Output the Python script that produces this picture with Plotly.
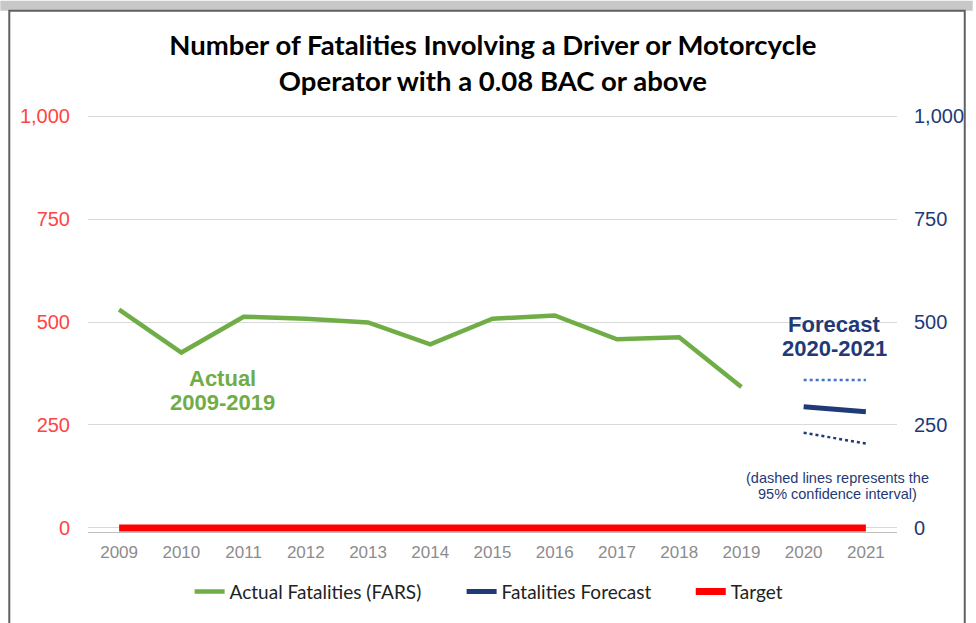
import plotly.graph_objects as go

years = [2009, 2010, 2011, 2012, 2013, 2014, 2015, 2016, 2017, 2018, 2019, 2020, 2021]
actual_years = [2009, 2010, 2011, 2012, 2013, 2014, 2015, 2016, 2017, 2018, 2019]
actual_vals = [530, 426, 513, 508, 499, 446, 508, 516, 458, 463, 342]
fc_years = [2020, 2021]
fc_vals = [294, 282]
ci_upper = [359, 359]
ci_lower = [231, 205]
target_vals = [0] * 13
yticks = [0, 250, 500, 750, 1000]
ytick_text = ["0", "250", "500", "750", "1,000"]

W, H = 976, 623
ML, MR, MT, MB = 88, 76, 115, 88
PW, PH = W - ML - MR, H - MT - MB

def px(x):
    return (x - ML) / PW

def py(y):
    return (H - MB - y) / PH

GREEN = "#70AD47"
NAVY = "#1F3A76"
RED = "#FF0000"

fig = go.Figure()
fig.add_trace(go.Scatter(x=actual_years, y=actual_vals, mode="lines",
                         line=dict(color=GREEN, width=4.5),
                         name="Actual Fatalities (FARS)", legend="legend"))
fig.add_trace(go.Scatter(x=fc_years, y=fc_vals, mode="lines",
                         line=dict(color=NAVY, width=5),
                         name="Fatalities Forecast", legend="legend2"))
fig.add_trace(go.Scatter(x=years, y=target_vals, mode="lines",
                         line=dict(color=RED, width=7),
                         name="Target", cliponaxis=False, legend="legend3"))
fig.add_trace(go.Scatter(x=fc_years, y=ci_upper, mode="lines",
                         line=dict(color="#4472C4", width=2.5, dash="dot"),
                         showlegend=False))
fig.add_trace(go.Scatter(x=fc_years, y=ci_lower, mode="lines",
                         line=dict(color=NAVY, width=2.5, dash="dot"),
                         showlegend=False))
# invisible trace for right axis
fig.add_trace(go.Scatter(x=[2009], y=[0], yaxis="y2", mode="markers",
                         marker=dict(opacity=0), showlegend=False, hoverinfo="skip"))

leg_font = dict(family="Lato", size=19, color="#222222")
def leg(xpix):
    return dict(orientation="h", x=px(xpix), xanchor="left", y=py(595), yanchor="middle",
                font=leg_font, bgcolor="rgba(0,0,0,0)", itemwidth=30)

fig.update_layout(
    width=W, height=H,
    margin=dict(l=ML, r=MR, t=MT, b=MB),
    paper_bgcolor="white", plot_bgcolor="white",
    title=dict(text="Number of Fatalities Involving a Driver or Motorcycle<br>Operator with a 0.08 BAC or above",
               x=0.505, xanchor="center", y=1 - 55 / H, yanchor="middle",
               font=dict(family="Lato", size=27.5, color="black", weight="bold")),
    xaxis=dict(range=[2008.5, 2021.5], tickvals=years, ticktext=[str(y) for y in years],
               showgrid=False, showline=True, linecolor="#bfbfbf", linewidth=1,
               zeroline=False, ticks="", ticklabelstandoff=5,
               tickfont=dict(family="Liberation Sans", size=17, color="#8c8c8c")),
    yaxis=dict(range=[-10, 1003], tickvals=yticks, ticktext=ytick_text,
               showgrid=True, gridcolor="#d9d9d9", gridwidth=1, zeroline=False,
               ticklabelstandoff=17,
               tickfont=dict(family="Liberation Sans", size=20, color="#FF4444")),
    yaxis2=dict(range=[-10, 1003], tickvals=yticks, ticktext=ytick_text, overlaying="y",
                side="right", showgrid=False, zeroline=False, ticklabelstandoff=16,
                tickfont=dict(family="Liberation Sans", size=20, color=NAVY)),
    legend=leg(190),
    legend2=leg(463),
    legend3=leg(693),
    showlegend=True,
)

def note(text, x, y, size, color, bold=False):
    fig.add_annotation(text=f"<b>{text}</b>" if bold else text, x=px(x), y=py(y),
                       xref="paper", yref="paper", xanchor="center", yanchor="middle",
                       showarrow=False, font=dict(family="Liberation Sans", size=size, color=color))

note("Actual", 223, 380, 22, GREEN, True)
note("2009-2019", 223, 405, 22, GREEN, True)
note("Forecast", 837, 326, 22, NAVY, True)
note("2020-2021", 837, 350, 22, NAVY, True)
note("(dashed lines represents the", 840, 481, 14.5, NAVY)
note("95% confidence interval)", 840, 497, 14.5, NAVY)

# frame around chart
fig.add_shape(type="rect", xref="paper", yref="paper", x0=px(0), x1=px(W), y0=py(0), y1=py(10),
              fillcolor="#c8c8c8", line=dict(width=0), layer="below")
fig.add_shape(type="rect", xref="paper", yref="paper", x0=px(9), x1=px(968), y0=py(10), y1=py(H + 5),
              fillcolor="rgba(0,0,0,0)", line=dict(color="#606060", width=2))

fig.write_html("out.html", config={"displayModeBar": False},
               post_script="document.body.style.margin='0';document.body.style.padding='0';")
